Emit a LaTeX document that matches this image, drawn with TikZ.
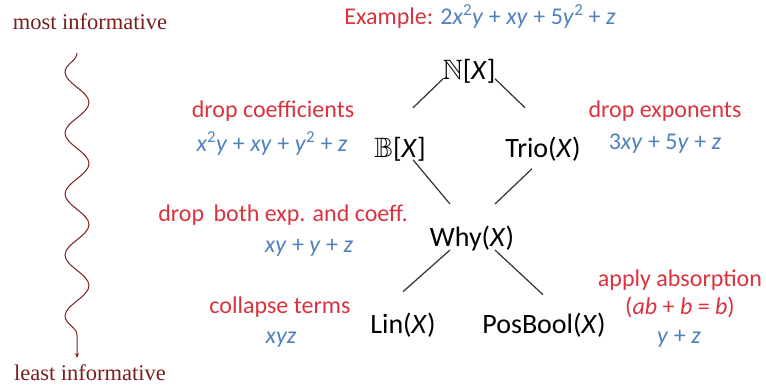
\documentclass[tikz,border=0pt]{standalone}
\usepackage{amssymb}
\usepackage{fontspec}
\setmainfont{Carlito}
\newfontfamily\lblserif{Liberation Serif}
\usetikzlibrary{calc,decorations.pathmorphing,arrows.meta}
\definecolor{ered}{RGB}{218,50,62}
\definecolor{eblue}{RGB}{79,129,189}
\definecolor{dred}{RGB}{122,30,30}
\definecolor{lgray}{RGB}{50,50,50}
\newcommand{\iv}[1]{\textit{#1}}
\newcommand{\sq}{\textsuperscript{2}}
\tikzset{
  lattice/.style={anchor=base, inner sep=0pt, font=\fontsize{28}{30}\selectfont, text=black},
  note/.style={anchor=base, inner sep=0pt, font=\fontsize{24}{26}\selectfont, text=ered},
  formula/.style={anchor=base, inner sep=0pt, font=\fontsize{24}{26}\selectfont, text=eblue},
  sidelbl/.style={anchor=base, inner sep=0pt, font=\lblserif\fontsize{22.5}{24}\selectfont, text=dred},
  edge/.style={draw=lgray, line width=1.2pt},
}
\begin{document}
\begin{tikzpicture}[x=1pt,y=-1pt]
\useasboundingbox (0,0) rectangle (766,390);
% side labels
\node[sidelbl] (most) at (90,30) {most informative};
\node[sidelbl] (least) at (90,380) {least informative};
\coordinate (wtop) at (77,53);
\coordinate (wbot) at (77,358);
\draw[dred, line width=1pt, -{Stealth[length=5pt,width=4pt]},
  decorate, decoration={snake, mirror, segment length=61, amplitude=12, pre length=0, post length=4}]
  (wtop) -- (wbot);
% example
\node[anchor=base, inner sep=0pt, font=\fontsize{24}{26}\selectfont] (ex) at (480,25)
  {\textcolor{ered}{Example:} \textcolor{eblue}{2\iv{x}\sq\iv{y} + \iv{xy} + 5\iv{y}\sq{} + \iv{z}}};
% lattice
\node[lattice] (N) at (469,80) {$\mathbb{N}$[\iv{X}]};
\node[lattice] (B) at (400,158) {$\mathbb{B}$[\iv{X}]};
\node[lattice] (T) at (543,158) {Trio(\iv{X})};
\node[lattice] (W) at (472,247) {Why(\iv{X})};
\node[lattice] (L) at (403,333) {Lin(\iv{X})};
\node[lattice] (P) at (544,333) {PosBool(\iv{X})};
\draw[edge] ($(N)+(-26,7)$) -- ($(B)+(13,-42)$);
\draw[edge] ($(N)+(26,7)$) -- ($(T)+(-18,-42)$);
\draw[edge] ($(B)+(13,10)$) -- ($(W)+(-22,-35)$);
\draw[edge] ($(T)+(-11,19)$) -- ($(W)+(23,-35)$);
\draw[edge] ($(W)+(-22,11)$) -- ($(L)+(0,-33)$);
\draw[edge] ($(W)+(23,11)$) -- ($(P)+(-1,-30)$);
% annotations
\node[note] (dc) at (273,118) {drop coefficients};
\node[formula] (dcf) at (272,152) {\iv{x}\sq\iv{y} + \iv{xy} + \iv{y}\sq{} + \iv{z}};
\node[note] (de) at (665,118) {drop exponents};
\node[formula] (def) at (665,150) {3\iv{xy} + 5\iv{y} + \iv{z}};
\node[note] (db) at (283,222) {drop\, both exp. and coeff.};
\node[formula] (dbf) at (309,253) {\iv{xy} + \iv{y} + \iv{z}};
\node[note] (ct) at (280,313) {collapse terms};
\node[formula] (ctf) at (281,343) {\iv{xyz}};
\node[note] (aa) at (680,287) {apply absorption};
\node[note] (aa2) at (680,314) {(\iv{ab} + \iv{b} = \iv{b})};
\node[formula] (aaf) at (679,343) {\iv{y} + \iv{z}};
\end{tikzpicture}
\end{document}
